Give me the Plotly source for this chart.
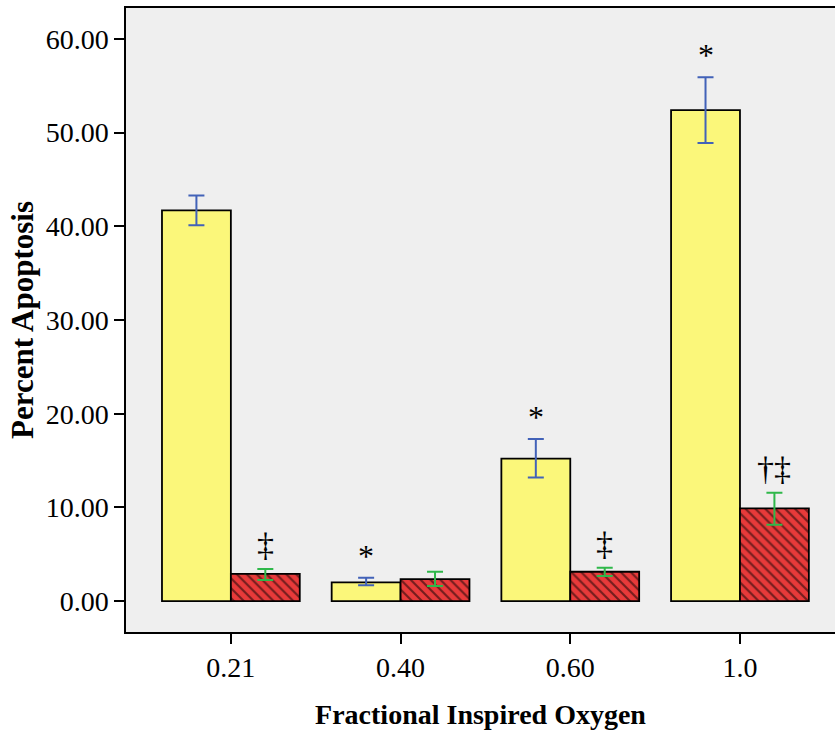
import plotly.graph_objects as go

categories = ["0.21", "0.40", "0.60", "1.0"]
yellow_vals = [41.7, 2.0, 15.2, 52.4]
yellow_hi = [43.3, 2.5, 17.3, 55.9]
yellow_lo = [40.1, 1.7, 13.2, 48.9]
red_vals = [2.9, 2.35, 3.13, 9.9]
red_hi = [3.42, 3.13, 3.56, 11.56]
red_lo = [2.24, 1.6, 2.67, 8.15]
yellow_marks = ["", "*", "*", "*"]
red_marks = ["‡", "", "‡", "†‡"]
y_ticks = [0, 10, 20, 30, 40, 50, 60]

xs = list(range(len(categories)))
font_fam = "Liberation Serif, Times New Roman, serif"

fig = go.Figure()
fig.add_trace(go.Bar(
    x=xs, y=yellow_vals, width=0.406, offset=-0.406,
    marker=dict(color="#fbf77a", line=dict(color="black", width=1.8)),
    error_y=dict(type="data", symmetric=False,
                 array=[h - v for h, v in zip(yellow_hi, yellow_vals)],
                 arrayminus=[v - l for l, v in zip(yellow_lo, yellow_vals)],
                 color="#4262b8", thickness=2, width=8),
    showlegend=False))
fig.add_trace(go.Bar(
    x=xs, y=red_vals, width=0.406, offset=0,
    marker=dict(color="#e83a3a", line=dict(color="black", width=1.8),
                pattern=dict(shape="\\", fgcolor="black", bgcolor="#e83a3a",
                             size=7, solidity=0.3, fillmode="overlay")),
    error_y=dict(type="data", symmetric=False,
                 array=[h - v for h, v in zip(red_hi, red_vals)],
                 arrayminus=[v - l for l, v in zip(red_lo, red_vals)],
                 color="#2fb84a", thickness=2, width=8),
    showlegend=False))

for i, m in enumerate(yellow_marks):
    if m:
        fig.add_annotation(x=i - 0.203, y=yellow_hi[i], text=m, showarrow=False,
                           yanchor="bottom", yshift=2,
                           font=dict(family=font_fam, size=32, color="black"))
for i, m in enumerate(red_marks):
    if m:
        fig.add_annotation(x=i + 0.203, y=red_hi[i], text=m, showarrow=False,
                           yanchor="bottom", yshift=4,
                           font=dict(family=font_fam, size=34, color="black"))

fig.update_layout(
    width=835, height=734,
    margin=dict(l=126, r=0, t=8, b=102),
    paper_bgcolor="white", plot_bgcolor="#efefef",
    barmode="overlay",
    font=dict(family=font_fam, color="black"),
    xaxis=dict(range=[-0.618, 3.56], tickvals=xs, ticktext=categories,
               showgrid=False, zeroline=False, showline=True, mirror=True,
               linecolor="black", linewidth=1.5, ticks="outside", ticklen=10,
               tickwidth=1.5, tickcolor="black",
               tickfont=dict(size=28, family=font_fam),
               title=dict(text="<b>Fractional Inspired Oxygen</b>", standoff=22,
                          font=dict(size=28, family=font_fam))),
    yaxis=dict(range=[-3.3, 63.3], tickvals=y_ticks,
               ticktext=[f"{v:.2f}" for v in y_ticks],
               showgrid=False, zeroline=False, showline=True,
               linecolor="black", linewidth=1.5, ticks="outside", ticklen=10,
               tickwidth=1.5, tickcolor="black",
               tickfont=dict(size=28, family=font_fam),
               title=dict(text="<b>Percent Apoptosis</b>", standoff=3,
                          font=dict(size=31, family=font_fam))),
)

fig.write_html("out.html")
